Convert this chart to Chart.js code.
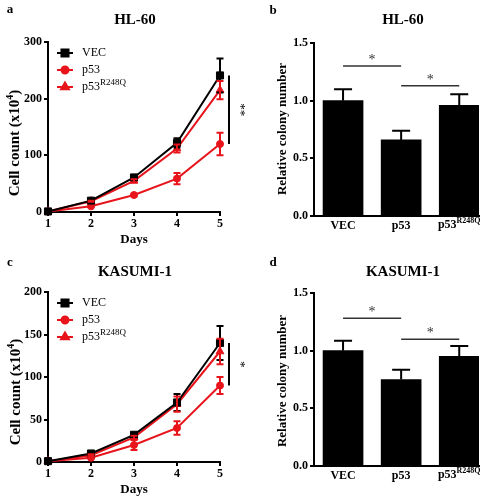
<!DOCTYPE html>
<html>
<head>
<meta charset="utf-8">
<script src="https://cdn.jsdelivr.net/npm/chart.js@4.4.1/dist/chart.umd.min.js"></script>
<style>
  body { margin: 0; background: #fff; }
  #wrap { position: relative; width: 492px; height: 500px; }
  canvas { position: absolute; }
</style>
</head>
<body>
<div id="wrap">
  <canvas id="panel_a" width="246" height="250" style="left:0;top:0"></canvas>
  <canvas id="panel_b" width="246" height="250" style="left:246px;top:0"></canvas>
  <canvas id="panel_c" width="246" height="250" style="left:0;top:250px"></canvas>
  <canvas id="panel_d" width="246" height="250" style="left:246px;top:250px"></canvas>
</div>
<script>
const days = [1, 2, 3, 4, 5];
const groups = ['VEC', 'p53', 'p53R248Q'];

// HL-60 growth curves, cell count x10^4 (mean, error)
const hlVec = [1, 20, 61, 122, 241];
const hlVecErr = [0, 2, 3, 8, 30];
const hlP53 = [1, 10, 30, 59, 120];
const hlP53Err = [0, 1, 2, 10, 20];
const hlMut = [1, 19, 55, 112, 215];
const hlMutErr = [0, 1, 3, 7, 16];

// KASUMI-1 growth curves
const kaVec = [1, 10, 32, 70, 140];
const kaVecErr = [0, 1, 2, 10, 20];
const kaP53 = [1, 5, 20, 40, 90];
const kaP53Err = [0, 1, 6, 8, 10];
const kaMut = [1, 8, 29, 68, 130];
const kaMutErr = [0, 1, 2, 9, 15];

// relative colony number
const hlColony = [1.0, 0.66, 0.96];
const hlColonyErr = [0.1, 0.08, 0.095];
const kaColony = [1.0, 0.75, 0.95];
const kaColonyErr = [0.085, 0.085, 0.09];

// significance bars: [group from, group to, height]
const hlBrackets = [[0, 1, 1.3], [1, 2, 1.13]];
const kaBrackets = [[0, 1, 1.28], [1, 2, 1.1]];

const SERIF = '"Liberation Serif", "Times New Roman", serif';
const RED = '#e8141c';
Chart.defaults.font.family = SERIF;
Chart.defaults.color = '#000';

// draw a run of text pieces (text, font, dy) one after another
function richText(ctx, parts, x, y, align) {
  let w = 0;
  parts.forEach(p => { ctx.font = p[1]; w += ctx.measureText(p[0]).width; });
  let cx = align === 'center' ? x - w / 2 : x;
  ctx.textAlign = 'left';
  parts.forEach(p => {
    ctx.font = p[1];
    ctx.fillText(p[0], cx, y + (p[2] || 0));
    cx += ctx.measureText(p[0]).width;
  });
}

function axisStyle() {
  return {
    grid: { drawOnChartArea: false, drawTicks: true, tickLength: 4, color: '#000', lineWidth: 2 },
    border: { color: '#000', width: 2 },
  };
}

function linePanel(id, cfg) {
  const series = [
    { name: 'VEC', values: cfg.vec, errors: cfg.vecErr, color: '#000', marker: 'rect', radius: 5 },
    { name: 'p53', values: cfg.p53, errors: cfg.p53Err, color: RED, marker: 'circle', radius: 3.5 },
    { name: 'p53', sup: 'R248Q', values: cfg.mut, errors: cfg.mutErr, color: RED, marker: 'triangle', radius: 4.5 },
  ];

  const decor = {
    id: 'decor',
    afterDatasetsDraw(chart) {
      const ctx = chart.ctx;
      const xs = chart.scales.x, ys = chart.scales.y, area = chart.chartArea;

      // error bars
      chart.data.datasets.forEach((ds, di) => {
        const meta = chart.getDatasetMeta(di);
        ctx.save();
        ctx.strokeStyle = ds.borderColor;
        ctx.lineWidth = 2;
        meta.data.forEach((pt, i) => {
          const e = ds.errors[i];
          if (!e) return;
          const v = ds.data[i].y;
          const top = ys.getPixelForValue(v + e), bot = ys.getPixelForValue(v - e);
          ctx.beginPath();
          ctx.moveTo(pt.x, top); ctx.lineTo(pt.x, bot);
          ctx.moveTo(pt.x - 3.5, top); ctx.lineTo(pt.x + 3.5, top);
          ctx.moveTo(pt.x - 3.5, bot); ctx.lineTo(pt.x + 3.5, bot);
          ctx.stroke();
        });
        ctx.restore();
      });

      ctx.save();
      ctx.fillStyle = '#000';
      ctx.textBaseline = 'middle';
      ctx.textAlign = 'center';
      ctx.font = 'bold 13px ' + SERIF;
      ctx.fillText(cfg.letter, 10, cfg.letterY);
      ctx.font = 'bold 15px ' + SERIF;
      ctx.fillText(cfg.title, 135, cfg.titleY);
      ctx.font = 'bold 13px ' + SERIF;
      ctx.fillText('Days', (area.left + area.right) / 2, 240);

      // y axis title
      ctx.save();
      ctx.translate(cfg.yTitleX, cfg.yTitleY);
      ctx.rotate(-Math.PI / 2);
      richText(ctx, [['Cell count (x10', 'bold 15px ' + SERIF, 0],
                     ['4', 'bold 10px ' + SERIF, -5],
                     [')', 'bold 15px ' + SERIF, 0]], 0, 0, 'center');
      ctx.restore();

      // legend
      series.forEach((s, i) => {
        const ly = area.top + 11 + i * 17;
        const lx = area.left + 9;
        ctx.strokeStyle = s.color;
        ctx.fillStyle = s.color;
        ctx.lineWidth = 2;
        ctx.beginPath();
        ctx.moveTo(lx, ly); ctx.lineTo(lx + 16, ly);
        ctx.stroke();
        Chart.helpers.drawPoint(ctx, { pointStyle: s.marker, radius: s.radius, rotation: 0, borderWidth: 1 }, lx + 8, ly);
        ctx.fillStyle = '#000';
        const parts = [[s.name, '12px ' + SERIF, 0]];
        if (s.sup) parts.push([s.sup, '9px ' + SERIF, -4]);
        ctx.textBaseline = 'middle';
        richText(ctx, parts, lx + 25, ly, 'left');
      });

      // significance line at day 5
      const sx = xs.getPixelForValue(5) + 9;
      const y1 = ys.getPixelForValue(cfg.p53[4]), y2 = ys.getPixelForValue(cfg.vec[4]);
      ctx.strokeStyle = '#000';
      ctx.lineWidth = 2;
      ctx.beginPath();
      ctx.moveTo(sx, y1); ctx.lineTo(sx, y2);
      ctx.stroke();
      ctx.save();
      ctx.translate(sx + 14, (y1 + y2) / 2);
      ctx.rotate(Math.PI / 2);
      ctx.fillStyle = '#000';
      ctx.font = '13px ' + SERIF;
      ctx.textAlign = 'center';
      ctx.textBaseline = 'middle';
      ctx.fillText(cfg.stars, 0, 3);
      ctx.restore();
      ctx.restore();
    }
  };

  const ax = axisStyle();
  new Chart(document.getElementById(id), {
    type: 'line',
    data: {
      datasets: series.map(s => ({
        label: s.name + (s.sup || ''),
        data: days.map((d, i) => ({ x: d, y: s.values[i] })),
        errors: s.errors,
        borderColor: s.color,
        backgroundColor: s.color,
        borderWidth: 2,
        pointStyle: s.marker,
        pointRadius: s.radius,
        pointBorderWidth: 1,
        tension: 0,
        clip: false,
      }))
    },
    options: {
      responsive: false,
      animation: false,
      devicePixelRatio: 1,
      layout: { padding: { top: 42, right: 26, left: 0, bottom: 0 } },
      plugins: { legend: { display: false }, tooltip: { enabled: false } },
      scales: {
        x: {
          type: 'linear', min: 1, max: 5,
          afterBuildTicks: s => { s.ticks = days.map(d => ({ value: d })); },
          afterFit: s => { s.height = 38; },
          grid: ax.grid, border: ax.border,
          ticks: { font: { weight: 'bold', size: 12 }, color: '#000', padding: 1 },
        },
        y: {
          min: 0, max: cfg.yMax,
          afterFit: s => { s.width = 48; },
          grid: ax.grid, border: ax.border,
          ticks: { stepSize: cfg.yStep, font: { weight: 'bold', size: 12 }, color: '#000', padding: 2 },
        }
      }
    },
    plugins: [decor]
  });
}

function barPanel(id, cfg) {
  const decor = {
    id: 'decor',
    afterDatasetsDraw(chart) {
      const ctx = chart.ctx;
      const xs = chart.scales.x, ys = chart.scales.y;
      ctx.save();
      ctx.strokeStyle = '#000';
      ctx.fillStyle = '#000';

      // one-sided error bars
      ctx.lineWidth = 2;
      cfg.values.forEach((v, i) => {
        const x = xs.getPixelForValue(i);
        const top = ys.getPixelForValue(v + cfg.errors[i]);
        ctx.beginPath();
        ctx.moveTo(x, ys.getPixelForValue(v)); ctx.lineTo(x, top);
        ctx.moveTo(x - 9, top); ctx.lineTo(x + 9, top);
        ctx.stroke();
      });

      // significance bars
      ctx.strokeStyle = '#333';
      ctx.lineWidth = 1.5;
      cfg.brackets.forEach(b => {
        const x1 = xs.getPixelForValue(b[0]), x2 = xs.getPixelForValue(b[1]);
        const y = ys.getPixelForValue(b[2]);
        ctx.beginPath();
        ctx.moveTo(x1, y); ctx.lineTo(x2, y);
        ctx.stroke();
        ctx.font = '14px ' + SERIF;
        ctx.textAlign = 'center';
        ctx.textBaseline = 'alphabetic';
        ctx.fillStyle = '#333';
        ctx.fillText('*', (x1 + x2) / 2, y - 2);
      });

      ctx.fillStyle = '#000';
      ctx.textAlign = 'center';
      ctx.textBaseline = 'middle';
      ctx.font = 'bold 13px ' + SERIF;
      ctx.fillText(cfg.letter, 27, cfg.letterY);
      ctx.font = 'bold 15px ' + SERIF;
      ctx.fillText(cfg.title, 157, cfg.titleY);

      ctx.save();
      ctx.translate(37, cfg.yTitleY);
      ctx.rotate(-Math.PI / 2);
      ctx.font = 'bold 13px ' + SERIF;
      ctx.fillText('Relative colony number', 0, 0);
      ctx.restore();

      // third category label with superscript
      ctx.textBaseline = 'top';
      const ly = xs.top + 3;
      richText(ctx, [['p53', 'bold 12px ' + SERIF, 0], ['R248Q', 'bold 8px ' + SERIF, -2]],
        xs.getPixelForValue(2), ly, 'center');
      ctx.restore();
    }
  };

  new Chart(document.getElementById(id), {
    type: 'bar',
    data: {
      datasets: [{
        data: cfg.values.map((v, i) => ({ x: i, y: v })),
        backgroundColor: '#000',
        borderWidth: 0,
        barThickness: 40,
      }]
    },
    options: {
      responsive: false,
      animation: false,
      devicePixelRatio: 1,
      layout: { padding: { top: 43, right: 13, left: 0, bottom: 0 } },
      plugins: { legend: { display: false }, tooltip: { enabled: false } },
      scales: {
        x: {
          type: 'linear', min: -0.5, max: 2.34, offset: false,
          afterBuildTicks: s => { s.ticks = groups.map((g, i) => ({ value: i })); },
          afterFit: s => { s.height = 34; },
          grid: { display: false, drawTicks: false, offset: false },
          border: { color: '#000', width: 2 },
          ticks: {
            font: { weight: 'bold', size: 12 }, color: '#000', padding: 3,
            callback: v => (v === 2 ? '' : groups[v])
          },
        },
        y: {
          min: 0, max: 1.5,
          afterFit: s => { s.width = 68; },
          grid: { drawOnChartArea: false, drawTicks: true, tickLength: 4, color: '#000', lineWidth: 2 },
          border: { color: '#000', width: 2 },
          ticks: { stepSize: 0.5, font: { weight: 'bold', size: 12 }, color: '#000', padding: 2,
                   callback: v => v.toFixed(1) },
        }
      }
    },
    plugins: [decor]
  });
}

linePanel('panel_a', {
  letter: 'a', letterY: 10, title: 'HL-60', titleY: 20, yTitleX: 15, yTitleY: 143,
  vec: hlVec, vecErr: hlVecErr, p53: hlP53, p53Err: hlP53Err, mut: hlMut, mutErr: hlMutErr,
  yMax: 300, yStep: 100, stars: '**'
});
barPanel('panel_b', {
  letter: 'b', letterY: 11, title: 'HL-60', titleY: 20, yTitleY: 129,
  values: hlColony, errors: hlColonyErr, brackets: hlBrackets
});
linePanel('panel_c', {
  letter: 'c', letterY: 13, title: 'KASUMI-1', titleY: 22, yTitleX: 16, yTitleY: 142,
  vec: kaVec, vecErr: kaVecErr, p53: kaP53, p53Err: kaP53Err, mut: kaMut, mutErr: kaMutErr,
  yMax: 200, yStep: 50, stars: '*'
});
barPanel('panel_d', {
  letter: 'd', letterY: 13, title: 'KASUMI-1', titleY: 22, yTitleY: 131,
  values: kaColony, errors: kaColonyErr, brackets: kaBrackets
});
</script>
</body>
</html>
